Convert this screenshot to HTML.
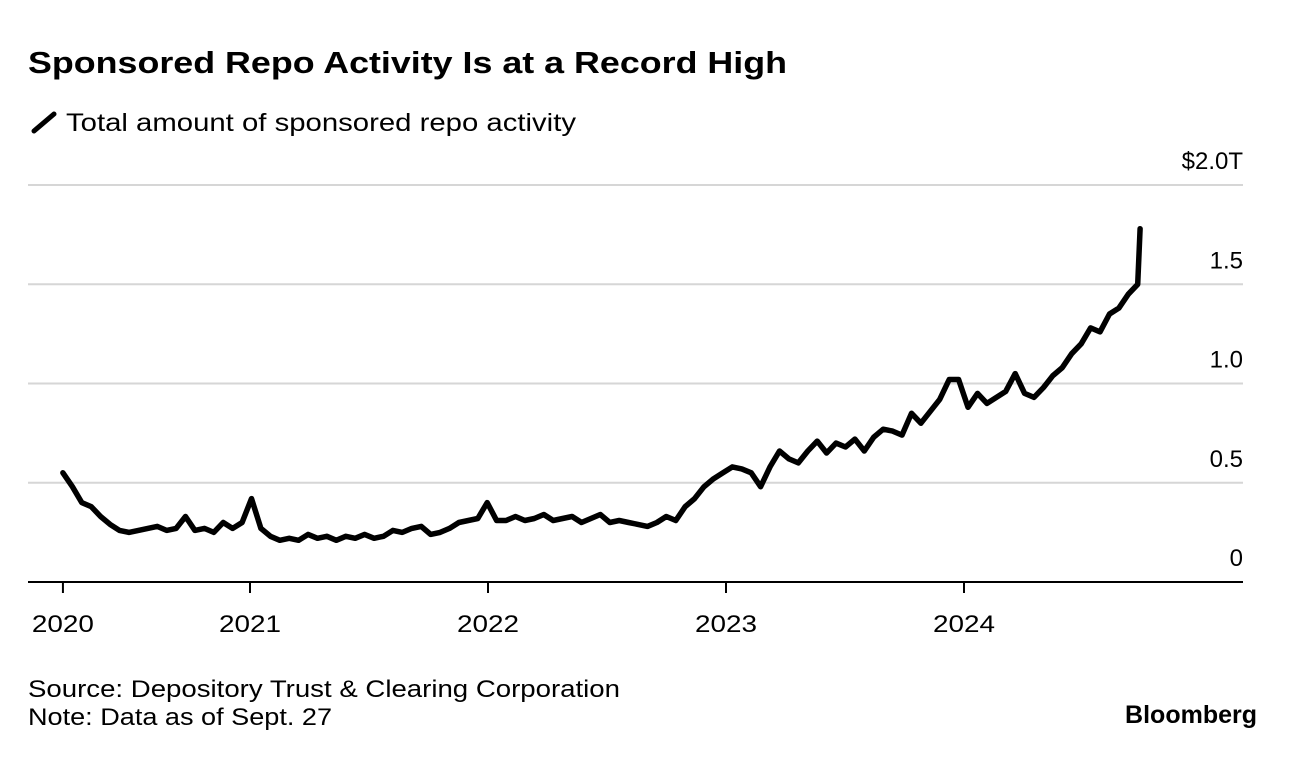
<!DOCTYPE html>
<html><head><meta charset="utf-8"><style>
body{margin:0;background:#fff;width:1296px;height:758px;overflow:hidden;font-family:"Liberation Sans",sans-serif}
svg{position:absolute;left:0;top:0}
</style></head><body>
<svg width="1296" height="758">
<text x="28" y="73" font-size="31" font-weight="bold" fill="#000" textLength="759" lengthAdjust="spacingAndGlyphs">Sponsored Repo Activity Is at a Record High</text>
<line x1="34" y1="131" x2="54" y2="114" stroke="#000" stroke-width="5" stroke-linecap="round"/>
<text x="66" y="131" font-size="25" fill="#000" textLength="510" lengthAdjust="spacingAndGlyphs">Total amount of sponsored repo activity</text>
<g id="grid"></g>
<g id="xaxis"></g>
<path id="line" fill="none" stroke="#000" stroke-width="5.5" stroke-linejoin="round" stroke-linecap="round"/>
<text x="28" y="697" font-size="24" fill="#000" textLength="592" lengthAdjust="spacingAndGlyphs">Source: Depository Trust &amp; Clearing Corporation</text>
<text x="28" y="725" font-size="24" fill="#000" textLength="304" lengthAdjust="spacingAndGlyphs">Note: Data as of Sept. 27</text>
<text x="1257" y="723" font-size="25" font-weight="bold" text-anchor="end" fill="#000">Bloomberg</text>
</svg>
<script>
const yTicks=[0,0.5,1.0,1.5,2.0];
const yTickLabels=["0","0.5","1.0","1.5","$2.0T"];
const xTicks=[2020.214,2021,2022,2023,2024];
const xTickLabels=["2020","2021","2022","2023","2024"];
const startDate=2020.214, endDate=2024.74;
const values=[0.55,0.48,0.40,0.38,0.33,0.29,0.26,0.25,0.26,0.27,0.28,0.26,0.27,0.33,0.26,0.27,0.25,0.30,0.27,0.30,
0.42,0.27,0.23,0.21,0.22,0.21,0.24,0.22,0.23,0.21,0.23,0.22,0.24,0.22,0.23,0.26,0.25,0.27,0.28,0.24,
0.25,0.27,0.30,0.31,0.32,0.40,0.31,0.31,0.33,0.31,0.32,0.34,0.31,0.32,0.33,0.30,0.32,0.34,0.30,0.31,
0.30,0.29,0.28,0.30,0.33,0.31,0.38,0.42,0.48,0.52,0.55,0.58,0.57,0.55,0.48,0.58,0.66,0.62,0.60,0.66,
0.71,0.65,0.70,0.68,0.72,0.66,0.73,0.77,0.76,0.74,0.85,0.80,0.86,0.92,1.02,1.02,0.88,0.95,0.90,0.93,
0.96,1.05,0.95,0.93,0.98,1.04,1.08,1.15,1.20,1.28,1.26,1.35,1.38,1.45,1.50,1.78];
const NS="http://www.w3.org/2000/svg";
const xs=d=>250+(d-2021)*238;
const ys=v=>582-v*198.5;
const grid=document.getElementById('grid');
yTicks.forEach((t,i)=>{
 if(t>0){const l=document.createElementNS(NS,'line');
 l.setAttribute('x1',28);l.setAttribute('x2',1243);l.setAttribute('y1',ys(t));l.setAttribute('y2',ys(t));
 l.setAttribute('stroke','#d6d6d6');l.setAttribute('stroke-width','2');
 
 
 grid.appendChild(l);}
 const tx=document.createElementNS(NS,'text');
 tx.setAttribute('x',1243);tx.setAttribute('y',ys(t)-16);tx.setAttribute('text-anchor','end');tx.setAttribute('font-size','24');
 tx.textContent=yTickLabels[i];
 
 
 grid.appendChild(tx);
});
const xa=document.getElementById('xaxis');
const ax=document.createElementNS(NS,'line');
ax.setAttribute('x1',28);ax.setAttribute('x2',1243);ax.setAttribute('y1',582);ax.setAttribute('y2',582);ax.setAttribute('stroke','#000');ax.setAttribute('stroke-width','2');


xa.appendChild(ax);
xTicks.forEach((t,i)=>{
 const l=document.createElementNS(NS,'line');
 l.setAttribute('x1',xs(t));l.setAttribute('x2',xs(t));l.setAttribute('y1',582);l.setAttribute('y2',593);l.setAttribute('stroke','#000');l.setAttribute('stroke-width','2');
 
 
 xa.appendChild(l);
 const tx=document.createElementNS(NS,'text');
 tx.setAttribute('x',xs(t));tx.setAttribute('y',632);tx.setAttribute('text-anchor','middle');tx.setAttribute('font-size','24');
 tx.setAttribute('textLength','62');tx.setAttribute('lengthAdjust','spacingAndGlyphs');
 tx.textContent=xTickLabels[i];
 
 
 xa.appendChild(tx);
});
const n=values.length;
let d='';
values.forEach((v,i)=>{
 let date=startDate+(endDate-0.01-startDate)*Math.min(i,n-2)/(n-2);
 if(i===n-1)date=endDate;
 d+=(i?'L':'M')+xs(date).toFixed(1)+' '+ys(v).toFixed(1);
});
document.getElementById('line').setAttribute('d',d);
</script>
</body></html>
